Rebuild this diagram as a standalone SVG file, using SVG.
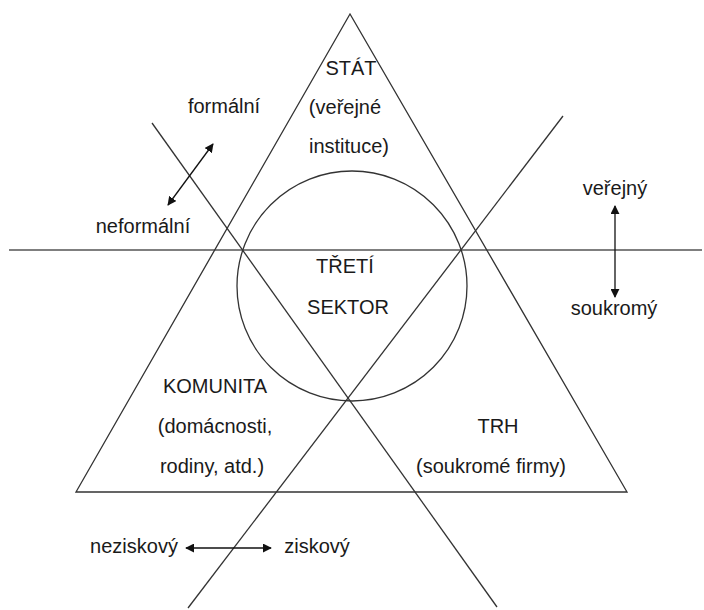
<svg xmlns="http://www.w3.org/2000/svg" width="704" height="610" viewBox="0 0 704 610">
<style>
.ln{stroke:#333;stroke-width:1.3;fill:none}
.hl{stroke:#555;stroke-width:1.6;fill:none}
.ar{stroke:#111;stroke-width:1.3;fill:none}
text{font-family:"Liberation Sans",Arial,sans-serif;font-size:20px;fill:#1a1a1a;text-anchor:middle}
</style>
<defs>
<marker id="ah" viewBox="0 0 10 10" refX="9" refY="5" markerWidth="9" markerHeight="9" markerUnits="userSpaceOnUse" orient="auto-start-reverse">
<path d="M0,0 L10,5 L0,10 z" fill="#111"/>
</marker>
</defs>
<rect width="704" height="610" fill="#fff"/>
<g id="connectors">
<line class="hl" x1="9" y1="250" x2="702" y2="250"/>
<line class="ln" x1="152" y1="123" x2="497" y2="607"/>
<line class="ln" x1="563" y1="116" x2="188" y2="608"/>
<line class="ar" x1="168" y1="205" x2="213" y2="144" marker-start="url(#ah)" marker-end="url(#ah)"/>
<line class="ar" x1="615" y1="206" x2="615" y2="297" marker-start="url(#ah)" marker-end="url(#ah)"/>
<line class="ar" x1="186" y1="548" x2="271" y2="548" marker-start="url(#ah)" marker-end="url(#ah)"/>
</g>
<g id="triangle">
<polygon class="ln" points="350,14 76,492 627,492"/>
</g>
<g id="circle">
<circle class="ln" cx="352" cy="286" r="115"/>
</g>
<g id="stat">
<text x="351" y="75">STÁT</text>
<text x="345" y="114">(veřejné</text>
<text x="349" y="153">instituce)</text>
</g>
<g id="treti-sektor">
<text x="345" y="273">TŘETÍ</text>
<text x="348" y="314">SEKTOR</text>
</g>
<g id="komunita">
<text x="215" y="393">KOMUNITA</text>
<text x="215" y="433">(domácnosti,</text>
<text x="212" y="473">rodiny, atd.)</text>
</g>
<g id="trh">
<text x="498" y="433">TRH</text>
<text x="491" y="473">(soukromé firmy)</text>
</g>
<g id="labels">
<text x="224" y="113">formální</text>
<text x="143" y="233">neformální</text>
<text x="615" y="195">veřejný</text>
<text x="614" y="315">soukromý</text>
<text x="134" y="553">neziskový</text>
<text x="317" y="553">ziskový</text>
</g>
</svg>
